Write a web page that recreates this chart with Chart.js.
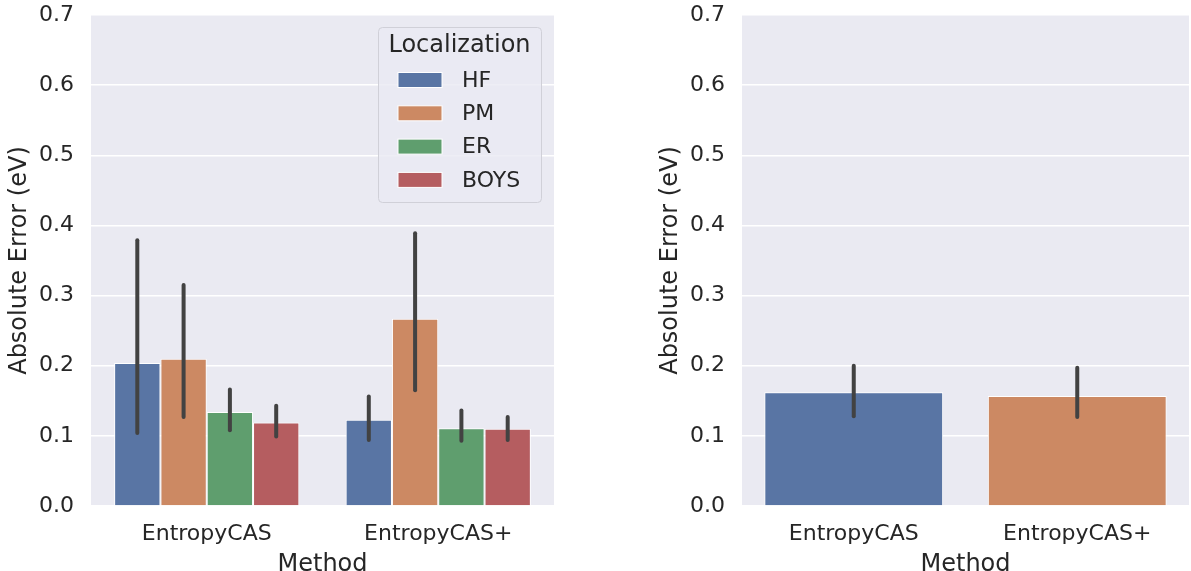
<!DOCTYPE html>
<html>
<head>
<meta charset="utf-8">
<script src="https://cdn.jsdelivr.net/npm/chart.js@4.4.1/dist/chart.umd.min.js"></script>
<style>
  html, body { margin: 0; padding: 0; background: #ffffff; }
  #wrap { position: relative; width: 1191px; height: 571px; overflow: hidden; }
  canvas { position: absolute; top: 0; }
  #byLoc { left: 0; }
  #byMethod { left: 651px; }
</style>
</head>
<body>
<div id="wrap">
  <canvas id="byLoc" width="600" height="571"></canvas>
  <canvas id="byMethod" width="540" height="571"></canvas>
</div>
<script>
// Categories
const methods = ['EntropyCAS', 'EntropyCAS+'];
const localizations = ['HF', 'PM', 'ER', 'BOYS'];

// Mean absolute error per localization scheme (eV), with confidence interval bounds
const hfMean   = [0.204, 0.123];
const hfLow    = [0.104, 0.094];
const hfHigh   = [0.379, 0.156];

const pmMean   = [0.210, 0.267];
const pmLow    = [0.127, 0.165];
const pmHigh   = [0.315, 0.389];

const erMean   = [0.134, 0.111];
const erLow    = [0.108, 0.093];
const erHigh   = [0.166, 0.136];

const boysMean = [0.119, 0.110];
const boysLow  = [0.099, 0.094];
const boysHigh = [0.143, 0.127];

// Mean absolute error per method over all localizations
const methodMean = [0.162, 0.157];
const methodLow  = [0.128, 0.127];
const methodHigh = [0.200, 0.197];

// Y axis ticks
const yTicks = [0.0, 0.1, 0.2, 0.3, 0.4, 0.5, 0.6, 0.7];

// Palette (seaborn "deep", desaturated as in barplot)
const palette = ['#5975A4', '#CC8963', '#5F9E6E', '#B55D60'];

const FONT = "'DejaVu Sans', 'Liberation Sans', sans-serif";
const TEXT = '#262626';
Chart.defaults.font.family = FONT;
Chart.defaults.color = TEXT;

// Grey plotting background behind the grid
const panelBackground = {
  id: 'panelBackground',
  beforeDraw(chart) {
    const { ctx, chartArea: a } = chart;
    ctx.save();
    ctx.fillStyle = '#EAEAF2';
    ctx.fillRect(a.left, a.top, a.right - a.left, a.bottom - a.top);
    ctx.restore();
  }
};

// Vertical confidence-interval bars centred on each bar
const errorBars = {
  id: 'errorBars',
  afterDatasetsDraw(chart) {
    const { ctx } = chart;
    const y = chart.scales.y;
    ctx.save();
    ctx.strokeStyle = '#424242';
    ctx.lineWidth = 4;
    ctx.lineCap = 'round';
    chart.data.datasets.forEach((ds, i) => {
      const meta = chart.getDatasetMeta(i);
      if (!ds.errLow) return;
      meta.data.forEach((bar, j) => {
        const y0 = y.getPixelForValue(ds.errLow[j]);
        const y1 = y.getPixelForValue(ds.errHigh[j]);
        ctx.beginPath();
        ctx.moveTo(bar.x, y0);
        ctx.lineTo(bar.x, y1);
        ctx.stroke();
      });
    });
    ctx.restore();
  }
};

// Framed legend with a title, drawn inside the upper right of the plot
const boxLegend = {
  id: 'boxLegend',
  afterDraw(chart, args, opts) {
    if (!opts.show) return;
    const { ctx, chartArea: a } = chart;
    const w = 163, h = 175;
    const x = a.right - 13 - w, y = a.top + 12;
    ctx.save();
    ctx.beginPath();
    ctx.roundRect(x + 0.5, y + 0.5, w, h, 4);
    ctx.fillStyle = 'rgba(234,234,242,0.8)';
    ctx.fill();
    ctx.strokeStyle = '#D0D0D8';
    ctx.lineWidth = 1;
    ctx.stroke();
    ctx.fillStyle = TEXT;
    ctx.textBaseline = 'middle';
    ctx.textAlign = 'center';
    ctx.font = '24px ' + FONT;
    ctx.fillText(opts.title, x + w / 2, y + 19);
    ctx.textAlign = 'left';
    ctx.font = '22px ' + FONT;
    chart.data.datasets.forEach((ds, i) => {
      const cy = y + 53 + i * 33.3;
      ctx.fillStyle = ds.backgroundColor;
      ctx.fillRect(x + 20, cy - 7.5, 44, 15);
      ctx.strokeStyle = '#ffffff';
      ctx.lineWidth = 1;
      ctx.strokeRect(x + 20, cy - 7.5, 44, 15);
      ctx.fillStyle = TEXT;
      ctx.fillText(ds.label, x + 84, cy + 1);
    });
    ctx.restore();
  }
};

function makeOptions(showLegend) {
  return {
    responsive: false,
    animation: false,
    devicePixelRatio: 1,
    layout: { padding: { top: 15, right: showLegend ? 46 : 2, bottom: 0, left: 0 } },
    plugins: {
      legend: { display: false },
      tooltip: { enabled: false },
      boxLegend: { show: showLegend, title: 'Localization' }
    },
    scales: {
      x: {
        offset: true,
        grid: { display: false },
        border: { display: false },
        ticks: { font: { size: 22 }, color: TEXT, padding: 7 },
        title: { display: true, text: 'Method', font: { size: 24, lineHeight: 1 }, color: TEXT, padding: { top: 0, bottom: -6 } },
        afterFit(scale) {
          scale.height = 65;
          scale.paddingLeft = 0;
          scale.paddingRight = 0;
        }
      },
      y: {
        min: 0,
        max: 0.7,
        afterBuildTicks(scale) { scale.ticks = yTicks.map(v => ({ value: v })); },
        grid: { color: '#ffffff', lineWidth: 1.5, drawTicks: false },
        border: { display: false },
        ticks: { font: { size: 22 }, color: TEXT, padding: 17, callback: v => Number(v).toFixed(1) },
        title: { display: true, text: 'Absolute Error (eV)', font: { size: 24, lineHeight: 1.2 }, color: TEXT, padding: { top: 5, bottom: 0 } },
        afterFit(scale) {
          scale.width = 91;
          scale.paddingTop = 0;
          scale.paddingBottom = 0;
        }
      }
    }
  };
}

const series = [
  [hfMean, hfLow, hfHigh],
  [pmMean, pmLow, pmHigh],
  [erMean, erLow, erHigh],
  [boysMean, boysLow, boysHigh]
];

new Chart(document.getElementById('byLoc'), {
  type: 'bar',
  data: {
    labels: methods,
    datasets: localizations.map((name, i) => ({
      label: name,
      data: series[i][0],
      errLow: series[i][1],
      errHigh: series[i][2],
      backgroundColor: palette[i],
      borderColor: '#ffffff',
      borderWidth: 1,
      categoryPercentage: 0.8,
      barPercentage: 1.0
    }))
  },
  options: makeOptions(true),
  plugins: [panelBackground, errorBars, boxLegend]
});

new Chart(document.getElementById('byMethod'), {
  type: 'bar',
  data: {
    labels: methods,
    datasets: [{
      label: 'Method',
      data: methodMean,
      errLow: methodLow,
      errHigh: methodHigh,
      backgroundColor: [palette[0], palette[1]],
      borderColor: '#ffffff',
      borderWidth: 1,
      categoryPercentage: 0.8,
      barPercentage: 1.0
    }]
  },
  options: makeOptions(false),
  plugins: [panelBackground, errorBars, boxLegend]
});
</script>
</body>
</html>
